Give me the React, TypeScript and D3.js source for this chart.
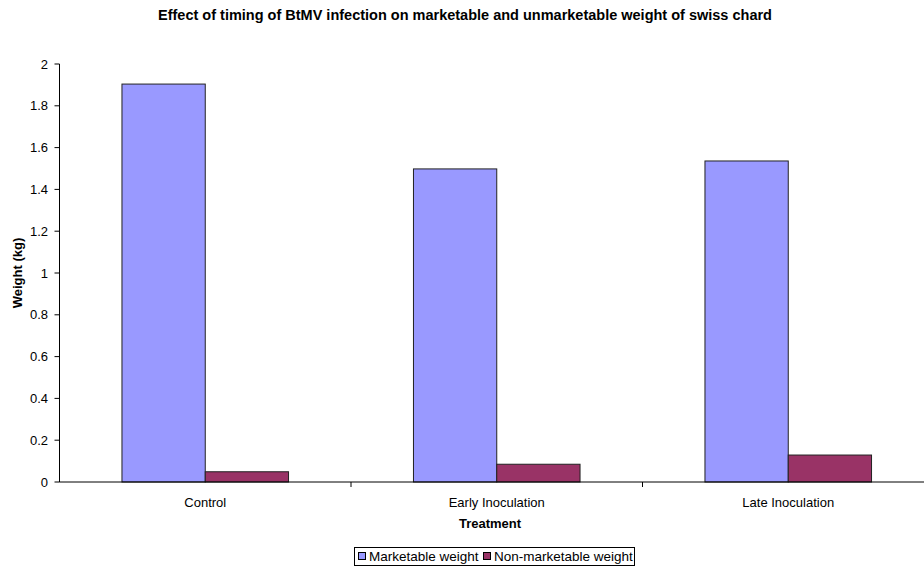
import React from "react";
import * as d3 from "d3";

const categories = ["Control", "Early Inoculation", "Late Inoculation"];
const seriesNames = ["Marketable weight", "Non-marketable weight"];
const marketable = [1.904, 1.498, 1.536];
const nonMarketable = [0.049, 0.085, 0.129];
const yTicks = [0, 0.2, 0.4, 0.6, 0.8, 1, 1.2, 1.4, 1.6, 1.8, 2];
const colors = ["#9999FF", "#993366"];

export default function App() {
  const W = 924, H = 567;
  const left = 59.5, right = 934, top = 64, bottom = 482;
  const x = d3.scaleBand().domain(categories).range([left, right]);
  const y = d3.scaleLinear().domain([0, 2]).range([bottom, top]);
  const B = x.bandwidth();
  const bw = B / 3.5;
  const font = "'Liberation Sans', Arial, sans-serif";
  const series = [marketable, nonMarketable];
  return (
    <svg width={W} height={H} style={{ position: "absolute", left: 0, top: 0, background: "#fff" }} fontFamily={font}>
      <text x={465} y={20} textAnchor="middle" fontSize={14.5} fontWeight="bold">
        Effect of timing of BtMV infection on marketable and unmarketable weight of swiss chard
      </text>
      {series.map((vals, si) =>
        vals.map((v, i) => {
          const cx = (x(categories[i]) as number) + B / 2;
          const x0 = cx - bw + si * bw;
          return (
            <rect key={si + "-" + i} x={x0} y={y(v)} width={bw} height={y(0) - y(v)}
              fill={colors[si]} stroke="#222" strokeWidth={1} />
          );
        })
      )}
      <line x1={left} x2={left} y1={top} y2={bottom} stroke="#000" />
      <line x1={left} x2={W} y1={bottom} y2={bottom} stroke="#000" />
      {yTicks.map((t) => (
        <g key={t}>
          <line x1={left - 5} x2={left} y1={y(t)} y2={y(t)} stroke="#000" />
          <text x={48} y={y(t) + 4.5} textAnchor="end" fontSize={13}>{t}</text>
        </g>
      ))}
      {categories.map((c, i) => (
        <g key={c}>
          {i > 0 && <line x1={x(c) as number} x2={x(c) as number} y1={bottom} y2={bottom + 5} stroke="#000" />}
          <text x={(x(c) as number) + B / 2} y={507} textAnchor="middle" fontSize={13}>{c}</text>
        </g>
      ))}
      <text x={490} y={528} textAnchor="middle" fontSize={13} fontWeight="bold">Treatment</text>
      <text transform={`translate(22,${(top + bottom) / 2}) rotate(-90)`} textAnchor="middle" fontSize={13} fontWeight="bold">Weight (kg)</text>
      <g>
        <rect x={354.5} y={547.5} width={280} height={18} fill="#fff" stroke="#000" />
        {seriesNames.map((s, i) => {
          const lx = i === 0 ? 358 : 483;
          return (
            <g key={s}>
              <rect x={lx + 0.5} y={552.5} width={7} height={7} fill={colors[i]} stroke="#000" />
              <text x={lx + 11} y={561} fontSize={13.5}>{s}</text>
            </g>
          );
        })}
      </g>
    </svg>
  );
}
